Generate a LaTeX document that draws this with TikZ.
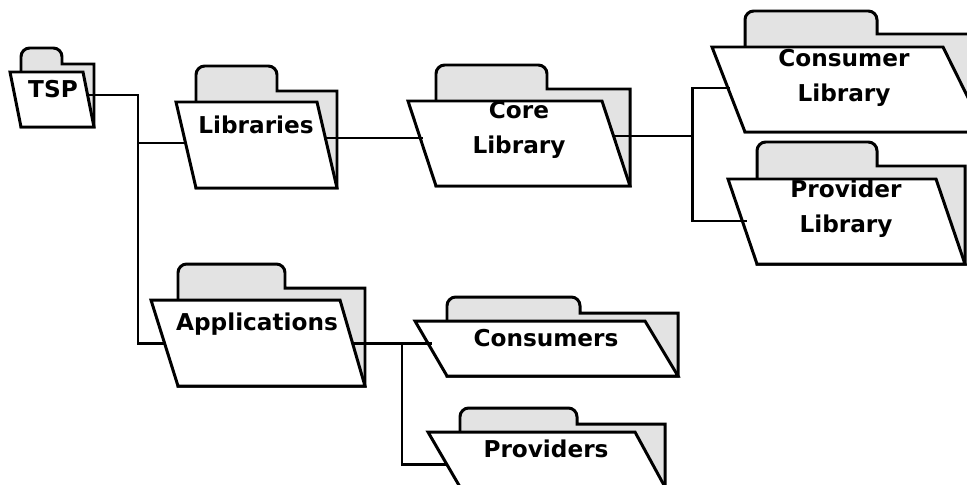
\documentclass[tikz,border=0pt]{standalone}
\usepackage{fontspec}
\setmainfont{DejaVu Sans}
\def\folder(#1,#2,#3)(#4,#5,#6)(#7,#8,#9){%
	\draw[folderback] (#4, #6) -- (#4, #2) [rounded corners=5pt] -- (#4, #8) -- (#7, #8) [sharp corners] -- (#7, #9) -- (#5, #9) -- (#5, #6) -- cycle;
	\draw[folderfront] (#1, #2) -- (#3, #2) -- (#5, #6) -- (#4, #6) -- cycle;
}
\tikzset{
	folderback/.style={line width=1.7pt, fill=black!11},
	folderfront/.style={line width=1.7pt, fill=white},
	label/.style={font=\bfseries\fontsize{13.2}{19.8}\selectfont, align=center, inner sep=0pt},
	wire/.style={line width=1.7pt}
}

\begin{document}
\begin{tikzpicture}[x=0.02cm, y=-0.02cm]
	%%%%% START %%%%%
	\useasboundingbox (0, 0) rectangle (967, 484);
	\clip (0, 0) rectangle (967, 484);

	\folder(10, 72, 83)(21, 94, 127)(62, 48, 64);
	\folder(176, 102, 317)(196, 337, 188)(277, 66, 91);
	\folder(408, 101, 602)(436, 630, 186)(547, 65, 89);
	\folder(712, 47, 943)(745, 985, 132)(877, 11, 34);
	\folder(728, 179, 936)(757, 965, 264)(877, 142, 166);
	\folder(151, 300, 340)(178, 365, 386)(285, 264, 288);
	\folder(415, 321, 645)(447, 678, 376)(580, 297, 313);
	\folder(428, 432, 635)(460, 665, 487)(577, 408, 424);

	\node[label] (tsp) at (53, 89) {TSP};
	\node[label] (libraries) at (256, 125) {Libraries};
	\node[label] (core) at (519, 129.5) {Core\\Library};
	\node[label] (consumer) at (844, 77.5) {Consumer\\Library};
	\node[label] (provider) at (846, 208.5) {Provider\\Library};
	\node[label] (applications) at (257, 324) {Applications};
	\node[label] (consumers) at (546, 338) {Consumers};
	\node[label] (providers) at (546, 449) {Providers};

	\coordinate (tsp out) at (88, 95);
	\coordinate (libraries in) at (187, 143);
	\coordinate (libraries out) at (325, 138);
	\coordinate (core in) at (423, 138);
	\coordinate (core out) at (615, 136);
	\coordinate (consumer in) at (730, 88);
	\coordinate (provider in) at (747, 221);
	\coordinate (applications in) at (165, 343);
	\coordinate (applications out) at (352, 343);
	\coordinate (consumers in) at (432, 343);
	\coordinate (providers in) at (447, 464);
	\coordinate (tree split) at (138, 143);
	\coordinate (core split) at (692, 136);
	\coordinate (apps split) at (402, 343);

	\draw[wire] (tsp out) -| (tree split) |- (applications in);
	\draw[wire] (tree split) -- (libraries in);
	\draw[wire] (libraries out) -- (core in);
	\draw[wire] (core out) -- (core split);
	\draw[wire] (consumer in) -| (core split) |- (provider in);
	\draw[wire] (applications out) -- (consumers in);
	\draw[wire] (apps split) |- (providers in);
	%%%%% END %%%%%
\end{tikzpicture}
\end{document}
